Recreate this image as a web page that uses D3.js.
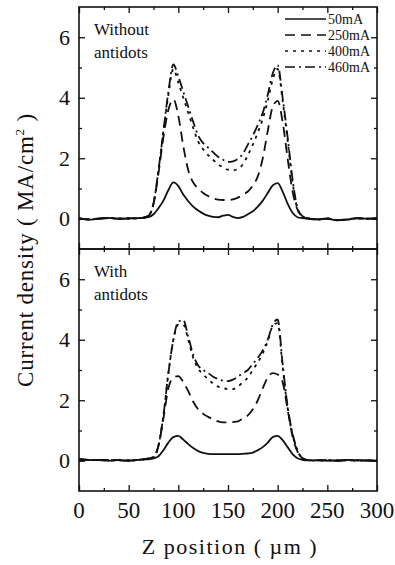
<!DOCTYPE html>
<meta charset="utf-8">
<style>
  body { margin: 0; background: #fff; }
  text { font-family: "Liberation Serif", "DejaVu Serif", serif; fill: #111; }
</style>
<script src="https://d3js.org/d3.v7.min.js"></script>
<div id="chart"></div>
<script>
// Z positions (µm) shared by all curves
var zPos = [0, 10, 20, 30, 40, 50, 60, 65, 70, 75, 80, 85, 90, 95, 100, 105, 110, 115, 120, 125,
            130, 135, 140, 145, 150, 155, 160, 165, 170, 175, 180, 185, 190, 195, 200, 205, 210,
            215, 220, 225, 230, 240, 250, 260, 270, 280, 290, 300];

// Without antidots (top panel)
var top50 = [0.02, -0.03, 0.0, 0.03, 0.0, 0.01, 0.02, 0.03, 0.05, 0.15, 0.35, 0.6, 0.95, 1.2, 1.08, 0.8, 0.58, 0.4, 0.27, 0.17,
             0.1, 0.06, 0.05, 0.1, 0.13, 0.06, 0.02, 0.06, 0.15, 0.25, 0.4, 0.6, 0.85, 1.1, 1.18, 0.9, 0.5,
             0.2, 0.05, 0.02, 0.0, -0.02, 0.0, -0.05, -0.03, 0.02, 0.0, 0.01];
var top250 = [0.01, -0.02, 0.01, 0.02, 0.0, 0.02, 0.01, 0.03, 0.1, 0.5, 1.5, 2.7, 3.6, 3.95, 3.4, 2.4, 1.6, 1.2, 1.0, 0.85,
              0.75, 0.68, 0.63, 0.62, 0.62, 0.64, 0.7, 0.8, 0.9, 1.1, 1.4, 2.0, 2.9, 3.7, 3.9, 3.2, 2.0,
              0.9, 0.3, 0.08, 0.02, -0.02, 0.01, -0.04, -0.02, 0.01, 0.0, 0.02];
var top400 = [0.0, -0.02, 0.01, 0.03, 0.01, 0.0, 0.02, 0.04, 0.1, 0.5, 1.6, 2.9, 4.1, 4.95, 4.5, 4.0, 3.5, 3.0, 2.55, 2.3,
              2.1, 1.95, 1.8, 1.7, 1.62, 1.6, 1.65, 1.8, 2.1, 2.45, 2.85, 3.3, 3.9, 4.6, 4.95, 3.9, 2.6,
              1.2, 0.32, 0.08, 0.02, -0.03, 0.0, -0.05, -0.02, 0.01, 0.0, 0.01];
var top460 = [0.01, -0.02, 0.0, 0.02, 0.0, 0.01, 0.02, 0.04, 0.1, 0.5, 1.6, 2.9, 4.2, 5.1, 4.7, 4.2, 3.7, 3.2, 2.75, 2.5,
              2.35, 2.2, 2.05, 1.95, 1.88, 1.9, 1.98, 2.15, 2.45, 2.75, 3.1, 3.5, 4.1, 4.8, 5.08, 4.0, 2.7,
              1.3, 0.35, 0.08, 0.02, -0.02, 0.01, -0.04, -0.03, 0.02, 0.0, 0.01];

// With antidots (bottom panel)
var bot50 = [0.05, 0.02, 0.03, 0.0, 0.02, 0.01, 0.03, 0.04, 0.05, 0.08, 0.15, 0.35, 0.6, 0.78, 0.82, 0.7, 0.55, 0.42, 0.32, 0.26,
             0.23, 0.22, 0.22, 0.22, 0.22, 0.22, 0.22, 0.23, 0.24, 0.27, 0.35, 0.45, 0.6, 0.78, 0.82, 0.68, 0.45,
             0.22, 0.08, 0.03, 0.01, 0.02, 0.0, 0.01, 0.03, 0.01, 0.02, 0.0];
var bot250 = [0.05, 0.03, 0.02, 0.01, 0.03, 0.0, 0.03, 0.05, 0.08, 0.12, 0.5, 1.4, 2.4, 2.75, 2.8, 2.6, 2.3, 1.95, 1.7, 1.55,
              1.45, 1.37, 1.3, 1.27, 1.27, 1.28, 1.3, 1.4, 1.5, 1.7, 2.0, 2.4, 2.75, 2.9, 2.85, 2.6, 1.7,
              0.8, 0.3, 0.08, 0.02, 0.01, 0.02, 0.0, 0.02, 0.01, 0.0, 0.01];
var bot400 = [0.04, 0.02, 0.03, 0.01, 0.02, 0.01, 0.03, 0.05, 0.08, 0.12, 0.5, 1.5, 2.9, 4.0, 4.5, 4.5, 4.0, 3.4, 3.05, 2.85,
              2.7, 2.55, 2.45, 2.4, 2.37, 2.37, 2.45, 2.6, 2.75, 3.0, 3.25, 3.55, 3.95, 4.45, 4.55, 3.1, 1.75,
              0.85, 0.33, 0.08, 0.02, 0.0, 0.02, 0.01, 0.02, 0.0, 0.01, 0.01];
var bot460 = [0.05, 0.02, 0.03, 0.02, 0.01, 0.0, 0.03, 0.05, 0.08, 0.12, 0.5, 1.5, 2.9, 4.0, 4.6, 4.65, 4.1, 3.5, 3.15, 3.0,
              2.9, 2.78, 2.7, 2.65, 2.63, 2.68, 2.78, 2.9, 3.0, 3.2, 3.4, 3.65, 4.0, 4.5, 4.67, 3.2, 1.8,
              0.9, 0.35, 0.08, 0.03, 0.01, 0.02, 0.0, 0.01, 0.02, 0.0, 0.01];

var seriesNames = ["50mA", "250mA", "400mA", "460mA"];
var dashes = ["none", "10,6", "3,5", "10,4,2,4"];
var xTicks = [0, 50, 100, 150, 200, 250, 300];
var yTicks = [0, 2, 4, 6];

var panels = [
  {label: ["Without", "antidots"], series: [top50, top250, top400, top460], legend: true},
  {label: ["With", "antidots"], series: [bot50, bot250, bot400, bot460], legend: false}
];

var W = 395, H = 565;
var margin = {top: 7, right: 18, bottom: 74, left: 79};
var width = W - margin.left - margin.right,
    height = H - margin.top - margin.bottom,
    panelH = height / 2;

var svg = d3.select("#chart").append("svg")
    .attr("width", W)
    .attr("height", H);

var g = svg.append("g")
    .attr("transform", "translate(" + margin.left + "," + margin.top + ")");

var x = d3.scaleLinear().domain([0, 300]).range([0, width]);

panels.forEach(function(p, i) {
  var pg = g.append("g").attr("transform", "translate(0," + (i * panelH) + ")");
  var y = d3.scaleLinear().domain([-1, 7]).range([panelH, 0]);

  // ticks on all four sides, pointing inward
  var minorX = d3.range(25, 300, 50);
  var minorY = [1, 3, 5];
  pg.append("g").attr("transform", "translate(0," + panelH + ")")
    .call(d3.axisTop(x).tickValues(xTicks).tickSize(6).tickFormat(""));
  pg.append("g").attr("transform", "translate(0," + panelH + ")")
    .call(d3.axisTop(x).tickValues(minorX).tickSize(3).tickFormat(""));
  pg.append("g")
    .call(d3.axisBottom(x).tickValues(xTicks).tickSize(6).tickFormat(""));
  pg.append("g")
    .call(d3.axisBottom(x).tickValues(minorX).tickSize(3).tickFormat(""));
  pg.append("g")
    .call(d3.axisRight(y).tickValues(yTicks).tickSize(6).tickFormat(""));
  pg.append("g")
    .call(d3.axisRight(y).tickValues(minorY).tickSize(3).tickFormat(""));
  pg.append("g").attr("transform", "translate(" + width + ",0)")
    .call(d3.axisLeft(y).tickValues(yTicks).tickSize(6).tickFormat(""));
  pg.append("g").attr("transform", "translate(" + width + ",0)")
    .call(d3.axisLeft(y).tickValues(minorY).tickSize(3).tickFormat(""));

  // y tick labels
  pg.append("g").selectAll("text")
    .data(yTicks)
    .join("text")
      .attr("x", -9)
      .attr("y", d => y(d))
      .attr("dy", "0.35em")
      .attr("text-anchor", "end")
      .style("font-size", "22px")
      .text(d => d);

  pg.selectAll(".domain").remove();
  pg.selectAll(".tick line").attr("stroke", "#111").attr("stroke-width", 1.3);

  pg.append("rect")
    .attr("width", width).attr("height", panelH)
    .attr("fill", "none").attr("stroke", "#111").attr("stroke-width", 1.6);

  var line = d3.line()
    .x((d, k) => x(zPos[k]))
    .y(d => y(d))
    .curve(d3.curveMonotoneX);

  p.series.forEach(function(vals, s) {
    pg.append("path")
      .datum(vals)
      .attr("fill", "none")
      .attr("stroke", "#111")
      .attr("stroke-width", 1.8)
      .attr("stroke-dasharray", dashes[s])
      .attr("d", line);
  });

  // panel label
  pg.append("text")
    .attr("x", 15).attr("y", 28)
    .style("font-size", "17px")
    .selectAll("tspan")
    .data(p.label)
    .join("tspan")
      .attr("x", 15)
      .attr("dy", (d, k) => k === 0 ? 0 : "1.35em")
      .text(d => d);

  if (p.legend) {
    var lg = pg.append("g").attr("transform", "translate(206,12)");
    seriesNames.forEach(function(name, s) {
      lg.append("line")
        .attr("x1", 0).attr("x2", 41)
        .attr("y1", s * 16).attr("y2", s * 16)
        .attr("stroke", "#111").attr("stroke-width", 1.5)
        .attr("stroke-dasharray", dashes[s]);
      lg.append("text")
        .attr("x", 43).attr("y", s * 16)
        .attr("dy", "0.35em")
        .style("font-size", "14px")
        .text(name);
    });
  }
});

// x tick labels
g.append("g").selectAll("text")
  .data(xTicks)
  .join("text")
    .attr("x", d => x(d))
    .attr("y", height + 27)
    .attr("text-anchor", "middle")
    .style("font-size", "23px")
    .text(d => d);

// axis titles
g.append("text")
  .attr("x", width / 2 + 2)
  .attr("y", height + 63)
  .attr("text-anchor", "middle")
  .style("font-size", "22px")
  .style("letter-spacing", "1.5px")
  .text("Z position ( \u00b5m )");

g.append("text")
  .attr("transform", "translate(-46," + (height / 2 + 1) + ") rotate(-90)")
  .attr("text-anchor", "middle")
  .style("font-size", "23px")
  .style("letter-spacing", "0.8px")
  .html("Current density ( MA/cm<tspan dy='-9' font-size='13px'>2</tspan><tspan dy='9'> )</tspan>");
</script>
